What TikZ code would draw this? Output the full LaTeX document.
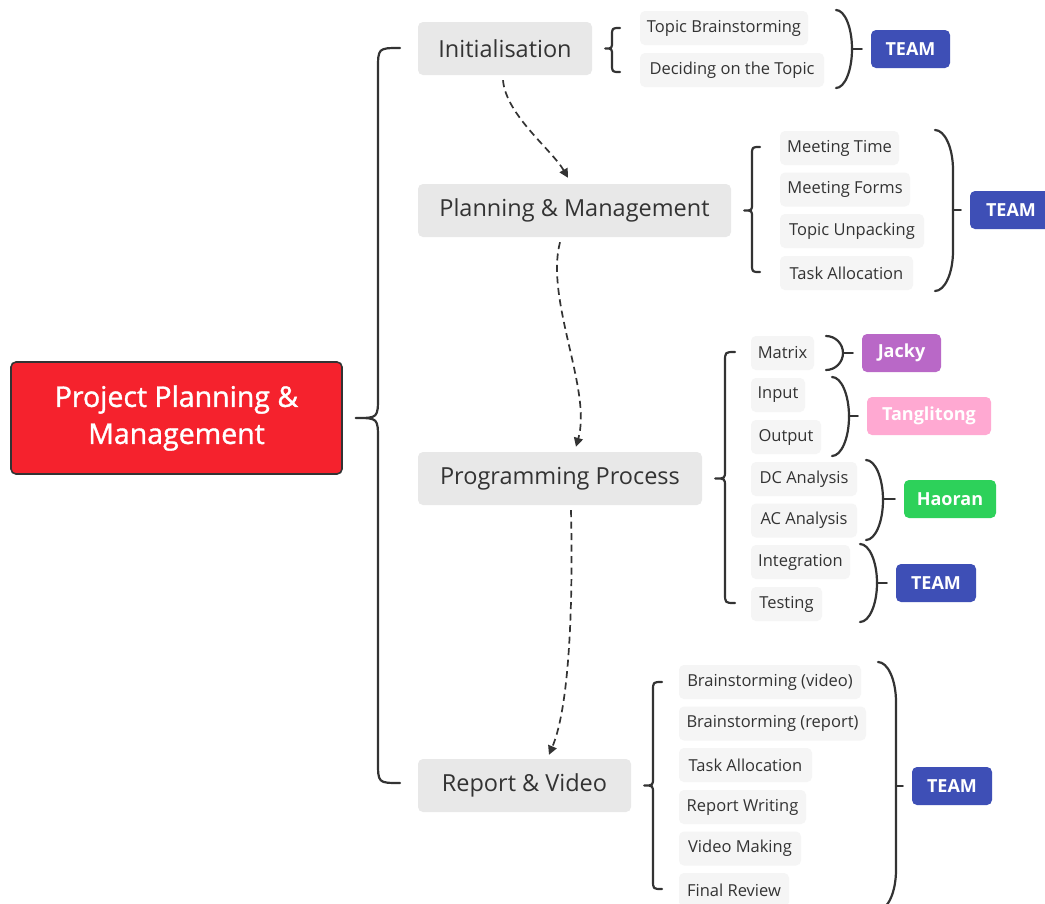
\documentclass[tikz,border=0pt]{standalone}
\usepackage{fontspec}
\setmainfont{Open Sans}
\newfontfamily\medfont[FakeBold=1.2]{Open Sans}
\usetikzlibrary{calc,arrows.meta}
\definecolor{ink}{HTML}{333333}
\definecolor{rootred}{HTML}{F5222D}
\definecolor{lone}{HTML}{E8E8E8}
\definecolor{ltwo}{HTML}{F5F5F5}
\definecolor{teamblue}{HTML}{3E4FB6}
\definecolor{jackyc}{HTML}{B968C7}
\definecolor{tangc}{HTML}{FFA9D2}
\definecolor{haoranc}{HTML}{2DD15A}
\tikzset{
  rootbox/.style={draw=ink, line width=1.6pt, fill=rootred, rounded corners=5pt, text=white,
    font=\medfont\fontsize{28.5}{37}\selectfont, align=center, minimum width=331pt, minimum height=112pt, inner sep=0pt},
  lonebox/.style={fill=lone, rounded corners=5pt, text=ink, font=\fontsize{23.5}{26}\selectfont,
    minimum height=53pt, inner sep=0pt},
  ltwobox/.style={fill=ltwo, rounded corners=5pt, text=ink, font=\fontsize{16.5}{19}\selectfont,
    minimum height=34pt, inner sep=0pt},
  sumbox/.style={rounded corners=5pt, text=white, font=\fontsize{18}{22}\selectfont\bfseries,
    minimum height=38pt, inner sep=0pt},
  brc/.style={draw=ink, line width=2.2pt, line cap=round, line join=round},
  dasharrow/.style={draw=ink, line width=1.7pt, dash pattern=on 7pt off 4.5pt,
    -{Triangle[length=9pt,width=9pt]}},
}
% left brace: #1 end x, #2 vertical x, #3 top y, #4 bottom y, #5 source node, #6 middle radius
\newcommand\mybracel[6]{%
  \pgfmathsetmacro\bRe{#1-#2}%
  \coordinate (bM) at (#2,0 |- #5.east);
  \coordinate (bT) at ([xshift=13pt]#5.east);
  \draw[brc] (#1,#3) .. controls (#2,#3) .. (#2,#3+\bRe)
    -- ($(bM)+(0,-#6)$) .. controls (bM) .. (bT) .. controls (bM) .. ($(bM)+(0,#6)$)
    -- (#2,#4-\bRe) .. controls (#2,#4) .. (#1,#4);
}
% right brace: #1 end x, #2 vertical x, #3 top y, #4 bottom y, #5 target node
\newcommand\mybracer[5]{%
  \pgfmathsetmacro\bRr{min((#4-#3)/2,40)}%
  \pgfmathsetmacro\bCx{#1+0.55*(#2-#1)}%
  \draw[brc] (#1,#3) .. controls (\bCx,#3) and (#2,{#3+0.45*\bRr}) .. (#2,#3+\bRr)
    -- (#2,#4-\bRr) .. controls (#2,{#4-0.45*\bRr}) and (\bCx,#4) .. (#1,#4);
  \draw[brc] (#2,0 |- #5.west) -- ([xshift=-9pt]#5.west);
}
\begin{document}
\begin{tikzpicture}[x=1pt,y=-1pt]
\useasboundingbox[fill=white] (0,0) rectangle (1045,903);

% root
\node[rootbox] (root) at (176.5,418) {Project Planning \&\\Management};

% level 1
\node[lonebox, minimum width=174pt] (init) at (505,48.5) {Initialisation};
\node[lonebox, minimum width=313pt] (plan) at (574.5,210.5) {Planning \& Management};
\node[lonebox, minimum width=284pt] (prog) at (560,478.5) {Programming Process};
\node[lonebox, minimum width=213pt] (rep) at (524.5,785.5) {Report \& Video};

% level 2
\node[ltwobox, minimum width=168pt] (tb) at (724,28) {Topic Brainstorming};
\node[ltwobox, minimum width=184pt] (dt) at (732,70) {Deciding on the Topic};

\node[ltwobox, minimum width=119pt] (mt) at (839.5,148) {Meeting Time};
\node[ltwobox, minimum width=130pt] (mf) at (845,189.5) {Meeting Forms};
\node[ltwobox, minimum width=144pt] (tu) at (852,231) {Topic Unpacking};
\node[ltwobox, minimum width=133pt] (ta) at (846.5,273) {Task Allocation};

\node[ltwobox, minimum width=63pt] (mx) at (782.5,353) {Matrix};
\node[ltwobox, minimum width=54pt] (inp) at (778,395) {Input};
\node[ltwobox, minimum width=70pt] (outp) at (786,437) {Output};
\node[ltwobox, minimum width=106pt] (dc) at (804,479) {DC Analysis};
\node[ltwobox, minimum width=106pt] (ac) at (804,520.5) {AC Analysis};
\node[ltwobox, minimum width=99pt] (ig) at (800.5,562) {Integration};
\node[ltwobox, minimum width=71pt] (ts) at (786.5,604) {Testing};

\node[ltwobox, minimum width=182pt] (bv) at (770,682) {Brainstorming (video)};
\node[ltwobox, minimum width=187pt] (br) at (772.5,723.5) {Brainstorming (report)};
\node[ltwobox, minimum width=133pt] (tal) at (745.5,765) {Task Allocation};
\node[ltwobox, minimum width=127pt] (rw) at (742.5,807) {Report Writing};
\node[ltwobox, minimum width=122pt] (vm) at (740,848.5) {Video Making};
\node[ltwobox, minimum width=110pt] (fr) at (734,890) {Final Review};

% summary nodes
\node[sumbox, fill=teamblue, minimum width=79pt] (teamA) at (910.5,49) {TEAM};
\node[sumbox, fill=teamblue, minimum width=82pt] (teamB) at (1011,210) {TEAM};
\node[sumbox, fill=jackyc, minimum width=79pt] (jacky) at (901.5,353) {Jacky};
\node[sumbox, fill=tangc, minimum width=124pt] (tang) at (929,416) {Tanglitong};
\node[sumbox, fill=haoranc, minimum width=92pt] (haoran) at (950,499) {Haoran};
\node[sumbox, fill=teamblue, minimum width=80pt] (teamC) at (936,583) {TEAM};
\node[sumbox, fill=teamblue, minimum width=80pt] (teamD) at (952,786) {TEAM};

% left braces
\mybracel{400}{378}{48}{783}{root}{22}
\mybracel{620}{612}{28}{72}{init}{7}
\mybracel{760}{752}{147}{272}{plan}{7}
\mybracel{735}{725}{352}{603}{prog}{8}
\mybracel{662}{653}{682}{889}{rep}{8}

% right (summary) braces
\mybracer{836}{852}{10}{88}{teamA}
\mybracer{935}{953}{130}{291}{teamB}
\mybracer{826}{843}{336}{370}{jacky}
\mybracer{832}{849}{377}{456}{tang}
\mybracer{866}{883}{460}{540}{haoran}
\mybracer{860}{877}{544}{622}{teamC}
\mybracer{878}{896}{662}{910}{teamD}

% dashed flow arrows
\draw[dasharrow] ($(init.south)+(-2,5)$) .. controls (506,115) and (552,150) .. ($(plan.north)+(-6.5,-6)$);
\draw[dasharrow] ($(plan.south)+(-14.5,5)$) .. controls (545,300) and (592,390) .. ($(prog.north)+(16,-5)$);
\draw[dasharrow] ($(prog.south)+(11,5)$) .. controls (573,600) and (570,705) .. ($(rep.north)+(24.5,-4)$);
\end{tikzpicture}
\end{document}
